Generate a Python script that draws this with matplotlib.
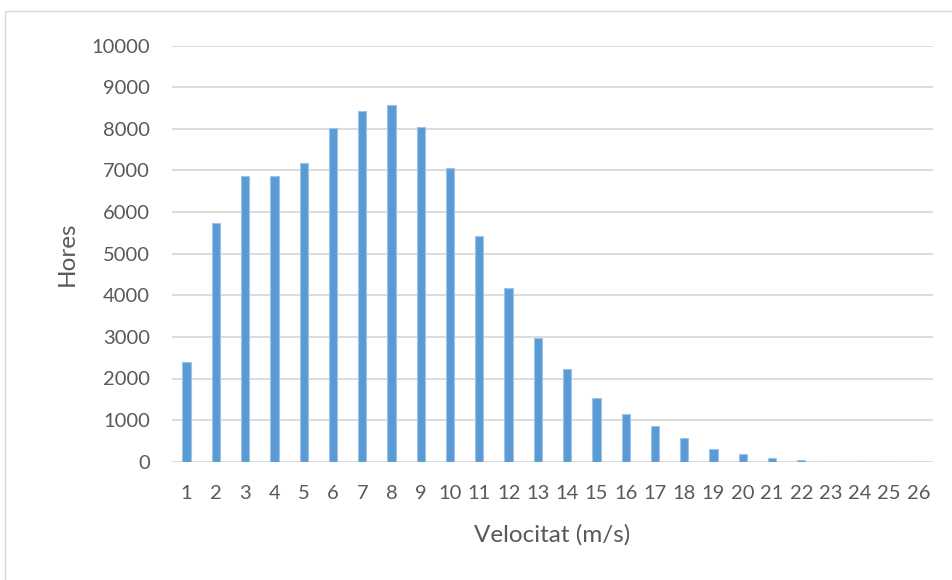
import matplotlib.pyplot as plt
from matplotlib.patches import Rectangle

# Hours per wind speed bin
velocitat = [str(v) for v in range(1, 27)]
hores = [2390, 5740, 6875, 6875, 7190, 8030, 8430, 8570, 8045, 7065,
         5425, 4185, 2965, 2230, 1530, 1135, 870, 580, 315, 185,
         95, 45, 0, 0, 0, 0]
yticks = list(range(0, 10001, 1000))

plt.rcParams['font.family'] = ['Lato', 'DejaVu Sans']
grey = '#595959'

fig = plt.figure(figsize=(9.53, 5.8), dpi=100)
ax = fig.add_axes([172 / 953, 1 - 461.7 / 580, 761 / 953, 416 / 580])

x = range(len(velocitat))
ax.bar(x, hores, width=0.285, color='#5B9BD5', edgecolor='#9DC3E6',
       linewidth=0.8, zorder=3)

ax.set_xlim(-0.5, len(velocitat) - 0.5)
ax.set_ylim(0, 10000)
ax.set_xticks(list(x))
ax.set_xticklabels(velocitat)
ax.set_yticks(yticks)
ax.set_yticklabels([str(t) for t in yticks])
ax.grid(axis='y', color='#D9D9D9', linewidth=1.3, zorder=0)
ax.tick_params(length=0, labelsize=14.5, colors=grey)
ax.tick_params(axis='x', pad=17)
ax.tick_params(axis='y', pad=16)
for s in ax.spines.values():
    s.set_visible(False)

ax.set_xlabel('Velocitat (m/s)', fontsize=17.5, color=grey, labelpad=16)
ax.set_ylabel('Hores', fontsize=17.5, color=grey, labelpad=10)

# outer chart border
fig.patches.append(Rectangle((4.5 / 953, -0.1), 1.2, 1 - 10.5 / 580 + 0.1,
                             transform=fig.transFigure, fill=False,
                             edgecolor='#D9D9D9', linewidth=1.0))

fig.savefig('out.png', dpi=100)
